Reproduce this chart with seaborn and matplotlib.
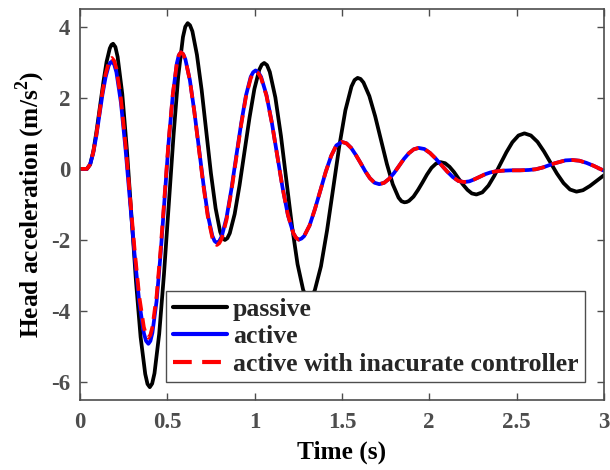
import matplotlib
matplotlib.use("Agg")
import matplotlib.pyplot as plt
import seaborn as sns

# ---------------- data ----------------
t_passive = [0, 0.02, 0.04, 0.059, 0.0775, 0.096, 0.115, 0.134, 0.1525, 0.171, 0.1806, 0.19, 0.2031,
             0.216, 0.2425, 0.269, 0.295, 0.321, 0.3475, 0.374, 0.3869, 0.40, 0.4136,
             0.427, 0.454, 0.481, 0.5085, 0.536, 0.563, 0.590, 0.6034, 0.617, 0.6303,
             0.644, 0.670, 0.697, 0.7235, 0.750, 0.777, 0.803, 0.8167, 0.83, 0.8441,
             0.858, 0.886, 0.914, 0.9425, 0.971, 0.999, 1.027, 1.0409, 1.055, 1.0709,
             1.087, 1.119, 1.151, 1.1825, 1.214, 1.246, 1.278, 1.2941, 1.31, 1.3275,
             1.345, 1.38, 1.415, 1.45, 1.485, 1.52, 1.555, 1.5725, 1.59, 1.6068,
             1.6235, 1.657, 1.6905, 1.724, 1.7575, 1.791, 1.8245, 1.8413, 1.858, 1.8709,
             1.884, 1.910, 1.936, 1.9615, 1.987, 2.013, 2.039, 2.065,
             2.091, 2.116, 2.142, 2.1675, 2.193, 2.219, 2.244, 2.27,
             2.304, 2.339, 2.373, 2.4075, 2.442, 2.476, 2.511, 2.545,
             2.582, 2.620, 2.657, 2.694, 2.731, 2.769, 2.806, 2.843,
             2.88, 2.92, 2.96, 3.0]
passive = [0, 0, 0, 0.13, 0.51, 1.09, 1.76, 2.43, 3.01, 3.39, 3.49, 3.52, 3.43,
           3.15, 2.11, 0.54, -1.31, -3.16, -4.73, -5.77, -6.05, -6.14, -6.04,
           -5.75, -4.64, -2.98, -1.02, 0.94, 2.61, 3.71, 4.00, 4.10, 4.04,
           3.87, 3.21, 2.22, 1.05, -0.12, -1.11, -1.77, -1.94, -2.00, -1.95,
           -1.81, -1.27, -0.46, 0.49, 1.44, 2.25, 2.79, 2.93, 2.98, 2.92,
           2.73, 2.01, 0.93, -0.34, -1.60, -2.68, -3.40, -3.59, -3.65, -3.59,
           -3.41, -2.74, -1.73, -0.55, 0.64, 1.65, 2.32, 2.50, 2.56, 2.53,
           2.43, 2.05, 1.48, 0.81, 0.14, -0.43, -0.81, -0.91, -0.94, -0.93,
           -0.90, -0.78, -0.59, -0.38, -0.16, 0.03, 0.15, 0.19,
           0.16, 0.06, -0.09, -0.27, -0.44, -0.59, -0.69, -0.72,
           -0.66, -0.47, -0.19, 0.14, 0.47, 0.75, 0.94, 1.00,
           0.94, 0.76, 0.49, 0.18, -0.13, -0.40, -0.58, -0.64,
           -0.60, -0.48, -0.33, -0.18]

t_active = [0, 0.02, 0.04, 0.058, 0.076, 0.094, 0.1115, 0.129, 0.147, 0.165, 0.1741, 0.183, 0.1961,
            0.209, 0.235, 0.261, 0.2875, 0.314, 0.340, 0.366, 0.3789, 0.392, 0.4036,
            0.415, 0.439, 0.462, 0.485, 0.508, 0.532, 0.555, 0.5664, 0.578, 0.5909,
            0.604, 0.6295, 0.655, 0.681, 0.707, 0.7325, 0.758, 0.7711, 0.784, 0.7979,
            0.812, 0.8395, 0.867, 0.895, 0.923, 0.9505, 0.978, 0.9921, 1.006, 1.0214,
            1.037, 1.068, 1.099, 1.1295, 1.160, 1.191, 1.222, 1.2376, 1.253, 1.2684,
            1.284, 1.315, 1.345, 1.376, 1.407, 1.438, 1.468, 1.499,
            1.526, 1.553, 1.580, 1.6065, 1.633, 1.660, 1.687, 1.714,
            1.742, 1.770, 1.798, 1.8265, 1.855, 1.883, 1.911, 1.939,
            1.972, 2.004, 2.037, 2.0695, 2.102, 2.135, 2.167, 2.20,
            2.23, 2.26, 2.29, 2.32, 2.35, 2.38, 2.42, 2.47, 2.52, 2.57, 2.61,
            2.65, 2.69, 2.72, 2.75, 2.78, 2.82, 2.86, 2.90, 2.94, 2.97, 3.0]
active = [0, 0, 0, 0.12, 0.44, 0.93, 1.51, 2.09, 2.58, 2.91, 2.99, 3.02, 2.94,
          2.72, 1.86, 0.57, -0.95, -2.47, -3.76, -4.62, -4.84, -4.92, -4.84,
          -4.61, -3.72, -2.39, -0.82, 0.75, 2.08, 2.97, 3.20, 3.28, 3.23,
          3.08, 2.50, 1.62, 0.60, -0.42, -1.30, -1.88, -2.03, -2.08, -2.03,
          -1.90, -1.37, -0.58, 0.35, 1.27, 2.06, 2.59, 2.72, 2.77, 2.72,
          2.59, 2.08, 1.30, 0.39, -0.52, -1.30, -1.81, -1.94, -1.99, -1.96,
          -1.89, -1.59, -1.14, -0.62, -0.09, 0.36, 0.66, 0.76,
          0.72, 0.59, 0.39, 0.17, -0.06, -0.26, -0.39, -0.43,
          -0.39, -0.28, -0.12, 0.08, 0.28, 0.44, 0.55, 0.59,
          0.56, 0.45, 0.29, 0.11, -0.07, -0.23, -0.34, -0.37,
          -0.35, -0.29, -0.22, -0.15, -0.10, -0.07, -0.05, -0.04, -0.04, -0.03, -0.01,
          0.04, 0.11, 0.16, 0.20, 0.24, 0.25, 0.23, 0.17, 0.09, 0.02, -0.05]
inaccurate = [0, 0, 0, 0.12, 0.46, 0.96, 1.56, 2.16, 2.66, 3.00, 3.09, 3.12, 3.04,
              2.82, 1.97, 0.69, -0.82, -2.32, -3.60, -4.45, -4.67, -4.75, -4.67,
              -4.45, -3.58, -2.27, -0.74, 0.80, 2.11, 2.97, 3.20, 3.28, 3.23,
              3.07, 2.49, 1.61, 0.57, -0.47, -1.35, -1.93, -2.09, -2.14, -2.09,
              -1.96, -1.43, -0.63, 0.30, 1.23, 2.03, 2.55, 2.69, 2.74, 2.69,
              2.56, 2.06, 1.29, 0.38, -0.53, -1.30, -1.81, -1.94, -1.99, -1.96,
              -1.89, -1.59, -1.14, -0.62, -0.09, 0.36, 0.66, 0.76,
              0.72, 0.59, 0.39, 0.17, -0.06, -0.26, -0.39, -0.43,
              -0.39, -0.28, -0.12, 0.08, 0.28, 0.44, 0.55, 0.59,
              0.56, 0.45, 0.29, 0.11, -0.07, -0.23, -0.34, -0.37,
              -0.35, -0.29, -0.22, -0.15, -0.10, -0.07, -0.05, -0.04, -0.04, -0.03, -0.01,
              0.04, 0.11, 0.16, 0.20, 0.24, 0.25, 0.23, 0.17, 0.09, 0.02, -0.05]

labels = ["passive", "active", "active with inacurate controller"]
x_ticks = [0, 0.5, 1, 1.5, 2, 2.5, 3]
x_ticklabels = ["0", "0.5", "1", "1.5", "2", "2.5", "3"]
y_ticks = [-6, -4, -2, 0, 2, 4]
y_ticklabels = ["-6", "-4", "-2", "0", "2", "4"]

# ---------------- style ----------------
sns.set_theme(style="ticks")
plt.rcParams["font.family"] = ["Liberation Serif", "DejaVu Serif"]
plt.rcParams["font.weight"] = "bold"
plt.rcParams["mathtext.fontset"] = "custom"
plt.rcParams["mathtext.rm"] = "Liberation Serif:bold"
plt.rcParams["mathtext.bf"] = "Liberation Serif:bold"
plt.rcParams["axes.unicode_minus"] = False

axis_gray = "#4d4d4d"

fig = plt.figure(figsize=(6.1, 4.7), dpi=100)
ax = fig.add_axes([0.131, 0.149, 0.859, 0.832])

lw = 2.7
common = dict(ax=ax, linewidth=lw, estimator=None, sort=False)
sns.lineplot(x=t_passive, y=passive, color="black", label=labels[0], **common)
sns.lineplot(x=t_active, y=active, color="#0000ff", label=labels[1], **common)
sns.lineplot(x=t_active, y=inaccurate, color="#ff0000", label=labels[2], **common)
ax.lines[2].set_linestyle((0, (3.4, 2.0)))
for ln in ax.lines:
    ln.set_solid_joinstyle("round")
    ln.set_dash_joinstyle("round")
    ln.set_solid_capstyle("round")

ax.set_xlim(0, 3)
ax.set_ylim(-6.5, 4.5)
ax.set_xticks(x_ticks)
ax.set_xticklabels(x_ticklabels)
ax.set_yticks(y_ticks)
ax.set_yticklabels(y_ticklabels)

ax.tick_params(axis="both", direction="in", length=5, width=1.0,
               top=True, right=True, colors=axis_gray, labelsize=16.5)
ax.tick_params(axis="x", pad=9)
ax.tick_params(axis="y", pad=7)
for lab in ax.get_xticklabels() + ax.get_yticklabels():
    lab.set_fontweight("bold")
for sp in ax.spines.values():
    sp.set_visible(True)
    sp.set_color(axis_gray)
    sp.set_linewidth(1.2)

ax.set_xlabel("Time (s)", fontsize=18.3, fontweight="bold", color="black", labelpad=5)
ax.set_ylabel(r"Head acceleration (m/s$^{2}$)", fontsize=18.3, fontweight="bold",
              color="black", labelpad=3)

leg = ax.legend(loc="lower right", bbox_to_anchor=(0.964, 0.046), borderaxespad=0,
                frameon=True, fancybox=False, handlelength=2.1,
                handletextpad=0.25, labelspacing=0.17, borderpad=0.25,
                prop={"weight": "bold", "size": 18.5})
leg.get_frame().set_edgecolor(axis_gray)
leg.get_frame().set_linewidth(1.0)
leg.get_frame().set_alpha(1)
leg_lines = leg.get_lines()
for h in leg_lines:
    h.set_linewidth(3)
leg_lines[2].set_linestyle((0, (4.5, 2.5)))

fig.savefig("out.png", dpi=100)
